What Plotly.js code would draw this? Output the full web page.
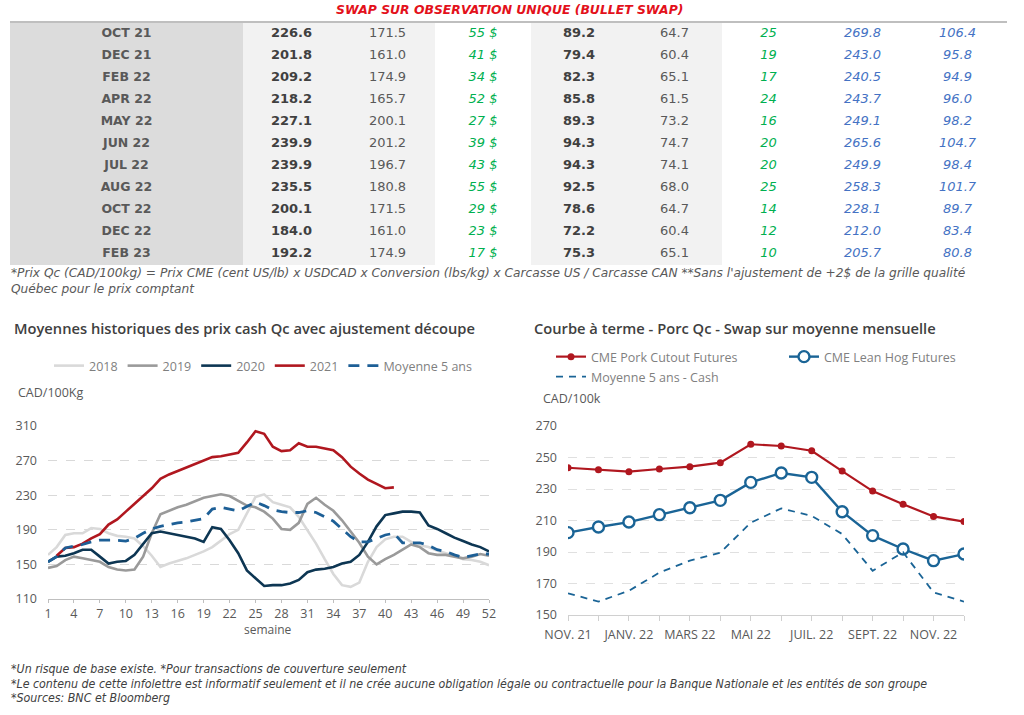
<!DOCTYPE html>
<html>
<head>
<meta charset="utf-8">
<script src="https://cdn.plot.ly/plotly-3.0.1.min.js"></script>
<style>
  html, body { margin: 0; padding: 0; background: #ffffff; }
  #chart { width: 1024px; height: 715px; }
</style>
</head>
<body>
<div id="chart"></div>
<script>
// ---------------- Table data ----------------
var tableMonths = ['OCT 21','DEC 21','FEB 22','APR 22','MAY 22','JUN 22','JUL 22','AUG 22','OCT 22','DEC 22','FEB 23'];
var cutoutQc   = [226.6, 201.8, 209.2, 218.2, 227.1, 239.9, 239.9, 235.5, 200.1, 184.0, 192.2];
var leanHogQc  = [171.5, 161.0, 174.9, 165.7, 200.1, 201.2, 196.7, 180.8, 171.5, 161.0, 174.9];
var spreadQc   = [55, 41, 34, 52, 27, 39, 43, 55, 29, 23, 17];
var cutoutUS   = [89.2, 79.4, 82.3, 85.8, 89.3, 94.3, 94.3, 92.5, 78.6, 72.2, 75.3];
var leanHogUS  = [64.7, 60.4, 65.1, 61.5, 73.2, 74.7, 74.1, 68.0, 64.7, 60.4, 65.1];
var spreadUS   = [25, 19, 17, 24, 16, 20, 20, 25, 14, 12, 10];
var swapQc     = [269.8, 243.0, 240.5, 243.7, 249.1, 265.6, 249.9, 258.3, 228.1, 212.0, 205.7];
var swapPerHog = [106.4, 95.8, 94.9, 96.0, 98.2, 104.7, 98.4, 101.7, 89.7, 83.4, 80.8];

// ---------------- Left chart data (weeks 1..52) ----------------
var weeks = [];
for (var i = 1; i <= 52; i++) weeks.push(i);
var y2018 = [161,170,184,186,186,192,191,186,183,182,180,171,160,147,151,154,157,161,165,170,178,185,190,209,228,231,222,219,216,205,190,174,156,139,126,124,129,153,170,179,182,182,176,172,170,166,163,160,156,155,153,149];
var y2019 = [146,148,155,159,157,155,153,147,144,143,144,159,186,208,212,216,219,223,227,229,231,229,223,218,216,211,203,191,190,198,220,227,219,212,201,188,175,159,150,156,161,167,173,170,163,161,161,159,157,159,162,160];
var y2020 = [153,159,160,163,167,167,159,151,153,154,161,174,186,188,186,184,182,180,176,193,191,178,163,143,134,125,126,126,128,132,141,144,145,147,151,153,161,176,194,207,209,211,211,210,195,191,186,181,177,173,170,165];
var y2021 = [null,160,169,170,174,180,185,196,202,211,220,228,238,249,254,258,262,266,270,274,275,277,279,291,304,301,286,281,282,290,286,286,284,282,274,263,255,248,243,238,239];
var yAvg5 = [153,159,169,171,173,176,178,178,178,177,180,186,191,194,196,198,199,201,203,214,216,214,212,217,222,218,213,211,210,210,212,210,205,200,191,182,176,176,180,184,186,175,175,175,172,167,165,161,158,160,162,162];
var weekTicks = [1,4,7,10,13,16,19,22,25,28,31,34,37,40,43,46,49,52];

// ---------------- Right chart data ----------------
var fwdMonths = ['NOV. 21','DÉC. 21','JANV. 22','FÉVR. 22','MARS 22','AVR. 22','MAI 22','JUIN 22','JUIL. 22','AOÛT 22','SEPT. 22','OCT. 22','NOV. 22','DÉC. 22'];
var fwdTickText = ['NOV. 21','','JANV. 22','','MARS 22','','MAI 22','','JUIL. 22','','SEPT. 22','','NOV. 22',''];
var porkCutout = [243.5,242.3,241.0,242.7,244.2,246.7,258.4,257.3,254.3,241.4,228.7,220.3,212.6,209.3];
var leanHog    = [202.3,205.9,209.0,213.7,218.1,222.8,234.2,240.2,237.4,215.6,200.4,191.9,184.5,188.7];
var avg5Cash   = [163.8,158.5,165.4,176.9,184.5,189.6,208.6,217.7,212.9,201.4,178.1,189.8,164.4,158.5];

// ---------------- helpers ----------------
var W = 1024, H = 715;
function px(x) { return x / W; }
function py(y) { return 1 - y / H; }

var tableFont = 'DejaVu Sans, Verdana, sans-serif';
var chartFont = 'Open Sans, DejaVu Sans, sans-serif';
var footFont = 'Liberation Sans Narrow, DejaVu Sans Condensed, Liberation Sans, sans-serif';

// table geometry (pixel positions of column edges, used as the x3 scale)
var colEdges = [10, 243, 340, 435, 531, 627, 722, 815, 910, 1005];
var colFills = ['#dcdcdc','#f2f2f2','#f2f2f2','#ffffff','#f2f2f2','#f2f2f2','#ffffff','#ffffff','#ffffff'];
function colCenter(c) { return (colEdges[c] + colEdges[c + 1]) / 2; }

function textCol(c, texts, color, size) {
  return {
    type: 'scatter', mode: 'text', xaxis: 'x3', yaxis: 'y3',
    x: tableMonths.map(function(){ return colCenter(c); }),
    y: tableMonths,
    text: texts,
    textposition: 'middle center',
    textfont: { family: tableFont, size: size, color: color },
    cliponaxis: false, hoverinfo: 'skip', showlegend: false
  };
}
function f1(a, o, c) { return a.map(function(v){ return o + v.toFixed(1) + c; }); }

var traces = [
  textCol(0, tableMonths.map(function(m){ return '<b>' + m + '</b>'; }), '#595959', 12.5),
  textCol(1, f1(cutoutQc, '<b>', '</b>'), '#404040', 13),
  textCol(2, f1(leanHogQc, '', ''), '#595959', 13),
  textCol(3, spreadQc.map(function(v){ return '<i>' + v + ' $</i>'; }), '#00b050', 13),
  textCol(4, f1(cutoutUS, '<b>', '</b>'), '#404040', 13),
  textCol(5, f1(leanHogUS, '', ''), '#595959', 13),
  textCol(6, spreadUS.map(function(v){ return '<i>' + v + '</i>'; }), '#00b050', 13),
  textCol(7, f1(swapQc, '<i>', '</i>'), '#4472c4', 13),
  textCol(8, f1(swapPerHog, '<i>', '</i>'), '#4472c4', 13),

  { x: weeks, y: y2018, name: '2018', type: 'scatter', mode: 'lines', xaxis: 'x', yaxis: 'y', legend: 'legend',
    line: { color: '#d9d9d9', width: 2.6 } },
  { x: weeks, y: y2019, name: '2019', type: 'scatter', mode: 'lines', xaxis: 'x', yaxis: 'y', legend: 'legend',
    line: { color: '#9a9a9a', width: 2.6 } },
  { x: weeks, y: y2020, name: '2020', type: 'scatter', mode: 'lines', xaxis: 'x', yaxis: 'y', legend: 'legend',
    line: { color: '#0d3653', width: 2.6 } },
  { x: weeks, y: y2021, name: '2021', type: 'scatter', mode: 'lines', xaxis: 'x', yaxis: 'y', legend: 'legend',
    line: { color: '#b0171f', width: 2.6 } },
  { x: weeks, y: yAvg5, name: 'Moyenne 5 ans', type: 'scatter', mode: 'lines', xaxis: 'x', yaxis: 'y', legend: 'legend',
    line: { color: '#1d5f96', width: 2.8, dash: '11px,8px' } },

  { x: fwdMonths, y: porkCutout, name: 'CME Pork Cutout Futures', type: 'scatter', mode: 'lines+markers',
    xaxis: 'x2', yaxis: 'y2', legend: 'legend2',
    line: { color: '#b0171f', width: 2.2 }, marker: { color: '#b0171f', size: 7 } },
  { x: fwdMonths, y: leanHog, name: 'CME Lean Hog Futures', type: 'scatter', mode: 'lines+markers',
    xaxis: 'x2', yaxis: 'y2', legend: 'legend3',
    line: { color: '#1a6496', width: 2.4 },
    marker: { color: '#ffffff', size: 11, line: { color: '#1a6496', width: 2.4 } } },
  { x: fwdMonths, y: avg5Cash, name: 'Moyenne 5 ans - Cash', type: 'scatter', mode: 'lines',
    xaxis: 'x2', yaxis: 'y2', legend: 'legend4',
    line: { color: '#1a6496', width: 1.8, dash: '7px,6px' } }
];

var axisFont = { family: chartFont, size: 12.5, color: '#595959' };

var legendBase = {
  orientation: 'h', xanchor: 'left', yanchor: 'middle',
  bgcolor: 'rgba(0,0,0,0)', borderwidth: 0,
  font: { family: chartFont, size: 12.5, color: '#7f7f7f' },
  itemwidth: 30, tracegroupgap: 0
};
function legendAt(x, y) {
  var o = JSON.parse(JSON.stringify(legendBase));
  o.x = px(x); o.y = py(y);
  return o;
}

var shapes = [
  { type: 'line', xref: 'paper', yref: 'paper', x0: px(10), x1: px(1007), y0: py(22), y1: py(22),
    line: { color: '#bfbfbf', width: 2 } }
];
for (var c = 0; c < colFills.length; c++) {
  if (colFills[c] === '#ffffff') continue;
  shapes.push({ type: 'rect', xref: 'x3', yref: 'paper', x0: colEdges[c], x1: colEdges[c + 1],
    y0: py(265), y1: py(23), fillcolor: colFills[c], line: { width: 0 }, layer: 'below' });
}

var layout = {
  width: W, height: H,
  margin: { l: 0, r: 0, t: 0, b: 0 },
  paper_bgcolor: '#ffffff', plot_bgcolor: 'rgba(0,0,0,0)',
  font: { family: chartFont, color: '#595959' },
  showlegend: true,
  legend: legendAt(49, 366),
  legend2: legendAt(551, 357),
  legend3: legendAt(784, 357),
  legend4: legendAt(551, 377),

  xaxis: {
    domain: [px(48), px(489)], range: [1, 52], anchor: 'y',
    tickmode: 'array', tickvals: weekTicks,
    ticks: 'outside', ticklen: 3, tickcolor: '#bfbfbf', tickwidth: 1,
    showline: true, linecolor: '#bfbfbf', linewidth: 1,
    showgrid: false, zeroline: false, tickfont: axisFont, fixedrange: true
  },
  yaxis: {
    domain: [py(599), py(426)], range: [110, 310], anchor: 'x',
    tickmode: 'linear', tick0: 110, dtick: 40,
    showgrid: true, gridcolor: '#d9d9d9', griddash: 'dash', gridwidth: 1,
    zeroline: false, showline: false, ticks: '', ticklabelstandoff: 10,
    tickfont: axisFont, fixedrange: true
  },
  xaxis2: {
    domain: [px(568), px(964)], type: 'category', range: [0, 13], anchor: 'y2',
    tickmode: 'array', tickvals: fwdMonths, ticktext: fwdTickText,
    ticks: 'outside', ticklen: 5, tickcolor: '#d0d0d0', tickwidth: 1,
    showline: true, linecolor: '#d0d0d0', linewidth: 1, ticklabelstandoff: 3,
    showgrid: false, zeroline: false, tickfont: axisFont, fixedrange: true
  },
  yaxis2: {
    domain: [py(615), py(426)], range: [150, 270], anchor: 'x2',
    tickmode: 'linear', tick0: 150, dtick: 20,
    showgrid: true, gridcolor: '#e0e0e0', griddash: 'dash', gridwidth: 1,
    zeroline: false, showline: false, ticks: '', ticklabelstandoff: 10,
    tickfont: axisFont, fixedrange: true
  },
  xaxis3: {
    domain: [px(10), px(1005)], range: [10, 1005], anchor: 'y3', visible: false, fixedrange: true
  },
  yaxis3: {
    domain: [py(265), py(23)], type: 'category', categoryorder: 'array', categoryarray: tableMonths,
    range: [10.5, -0.5], anchor: 'x3', visible: false, fixedrange: true
  },

  shapes: shapes,

  annotations: [
    { text: '<b><i>SWAP SUR OBSERVATION UNIQUE (BULLET SWAP)</i></b>', xref: 'paper', yref: 'paper',
      x: px(509), y: py(10), xanchor: 'center', yanchor: 'middle', showarrow: false,
      font: { family: tableFont, size: 12.4, color: '#e3111b' } },
    { text: "<i>*Prix Qc (CAD/100kg) = Prix CME (cent US/lb) x USDCAD x Conversion (lbs/kg) x Carcasse US / Carcasse CAN **Sans l'ajustement de +2$ de la grille qualité</i>",
      xref: 'paper', yref: 'paper', x: px(9), y: py(273), xanchor: 'left', yanchor: 'middle', align: 'left',
      showarrow: false, font: { family: tableFont, size: 12.2, color: '#595959' } },
    { text: "<i>Québec pour le prix comptant</i>",
      xref: 'paper', yref: 'paper', x: px(9), y: py(289), xanchor: 'left', yanchor: 'middle', align: 'left',
      showarrow: false, font: { family: tableFont, size: 12.2, color: '#595959' } },

    { text: 'Moyennes historiques des prix cash Qc avec ajustement découpe', xref: 'paper', yref: 'paper',
      x: px(12), y: py(328), xanchor: 'left', yanchor: 'middle', showarrow: false,
      font: { family: chartFont, size: 14.7, color: '#404040', weight: 600 } },
    { text: 'CAD/100Kg', xref: 'paper', yref: 'paper', x: px(16), y: py(392), xanchor: 'left', yanchor: 'middle',
      showarrow: false, font: axisFont },
    { text: 'semaine', xref: 'paper', yref: 'paper', x: px(268), y: py(629), xanchor: 'center', yanchor: 'middle',
      showarrow: false, font: { family: chartFont, size: 12, color: '#595959' } },

    { text: 'Courbe à terme - Porc Qc - Swap sur moyenne mensuelle', xref: 'paper', yref: 'paper',
      x: px(532), y: py(328), xanchor: 'left', yanchor: 'middle', showarrow: false,
      font: { family: chartFont, size: 14.7, color: '#404040', weight: 600 } },
    { text: 'CAD/100k', xref: 'paper', yref: 'paper', x: px(541), y: py(399), xanchor: 'left', yanchor: 'middle',
      showarrow: false, font: axisFont },

    { text: '<i>*Un risque de base existe. *Pour transactions de couverture seulement</i>',
      xref: 'paper', yref: 'paper', x: px(9), y: py(669), xanchor: 'left', yanchor: 'middle', align: 'left',
      showarrow: false, font: { family: footFont, size: 12.3, color: '#404040' } },
    { text: '<i>*Le contenu de cette infolettre est informatif seulement et il ne crée aucune obligation légale ou contractuelle pour la Banque Nationale et les entités de son groupe</i>',
      xref: 'paper', yref: 'paper', x: px(9), y: py(684), xanchor: 'left', yanchor: 'middle', align: 'left',
      showarrow: false, font: { family: footFont, size: 12.3, color: '#404040' } },
    { text: '<i>*Sources: BNC et Bloomberg</i>',
      xref: 'paper', yref: 'paper', x: px(9), y: py(698), xanchor: 'left', yanchor: 'middle', align: 'left',
      showarrow: false, font: { family: footFont, size: 12.3, color: '#404040' } }
  ]
};

Plotly.newPlot('chart', traces, layout, { staticPlot: true, displayModeBar: false });
</script>
</body>
</html>
